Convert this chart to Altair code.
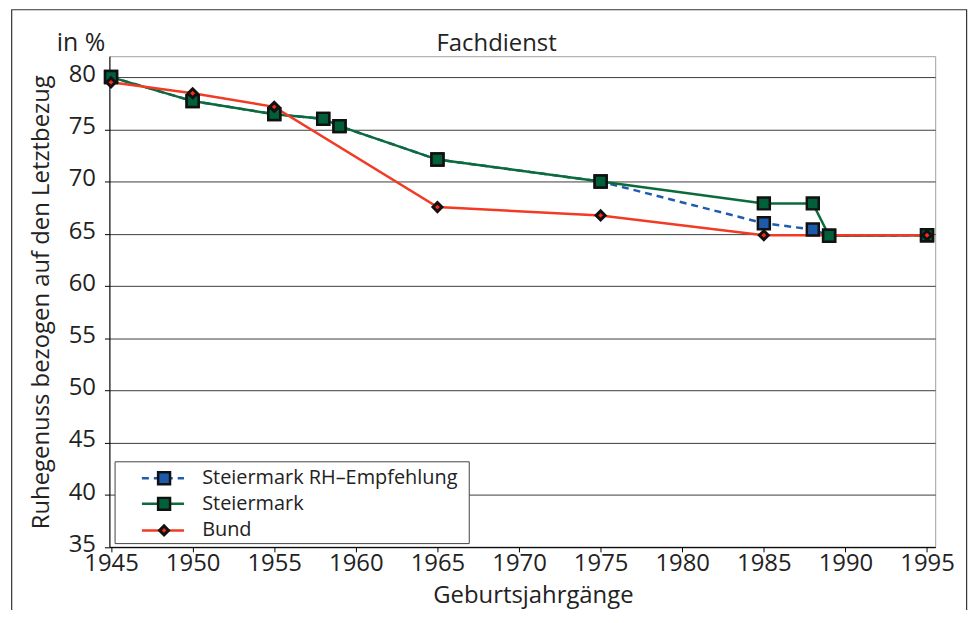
import altair as alt
import pandas as pd

# ---- data ----
years_stmk = [1945, 1950, 1955, 1958, 1959, 1965, 1975, 1985, 1988, 1989, 1995]
stmk = [80.0, 77.7, 76.45, 76.0, 75.3, 72.1, 70.0, 67.9, 67.9, 64.8, 64.85]
years_rh = [1945, 1950, 1955, 1958, 1959, 1965, 1975, 1985, 1988, 1989, 1995]
rh = [80.0, 77.7, 76.45, 76.0, 75.3, 72.1, 70.0, 66.0, 65.4, 64.8, 64.85]
years_bund = [1945, 1950, 1955, 1965, 1975, 1985, 1995]
bund = [79.5, 78.45, 77.15, 67.55, 66.75, 64.85, 64.85]

x_ticks = [1945, 1950, 1955, 1960, 1965, 1970, 1975, 1980, 1985, 1990, 1995]
y_ticks = [35, 40, 45, 50, 55, 60, 65, 70, 75, 80]

series_keys = ["rh", "stmk", "bund"]
series_names = ["Steiermark RH\u2013Empfehlung", "Steiermark", "Bund"]
line_colors = ["#1f5cb0", "#0b6b3a", "#f23a24"]
fill_colors = ["#1e5aaa", "#00603a", "#ff2a1a"]
shapes = ["square", "square", "diamond"]

rows = []
for key, ys, vs in [("rh", years_rh, rh), ("stmk", years_stmk, stmk), ("bund", years_bund, bund)]:
    for y, v in zip(ys, vs):
        rows.append({"series": key, "year": y, "value": v})
df = pd.DataFrame(rows)
one = pd.DataFrame({"k": [0]})

FONT = "Open Sans"
TXT = "#222222"

X = alt.X(
    "year:Q",
    scale=alt.Scale(domain=[1944.9, 1995.5], nice=False, zero=False),
    axis=alt.Axis(
        values=x_ticks, format="d", grid=False, tickSize=5, tickColor="black",
        domainColor="black", labelFontSize=24, labelPadding=0, labelColor=TXT,
        labelFlush=False, labelOverlap=False,
        title="Geburtsjahrgänge", titleFontSize=24, titleFontWeight="normal",
        titleColor=TXT, titleX=426, titleY=48.5, titleBaseline="middle", titleAlign="center",
    ),
)
Y = alt.Y(
    "value:Q",
    scale=alt.Scale(domain=[35, 82], nice=False, zero=False),
    axis=alt.Axis(
        values=y_ticks, grid=True, gridColor="#3c3c3c", gridWidth=1, tickSize=5,
        tickColor="black", domainColor="black", labelFontSize=24, labelPadding=9,
        labelOffset=-2.5, labelColor=TXT,
        title="Ruhegenuss bezogen auf den Letztbezug", titleFontSize=24,
        titleFontWeight="normal", titleColor=TXT, titleAngle=270, titleX=-68,
        titleY=247, titleBaseline="middle", titleAlign="center",
    ),
)

base = alt.Chart(df).encode(x=X, y=Y)

layers = []
for key, col in zip(series_keys, line_colors):
    kw = dict(color=col, strokeWidth=2.5)
    if key == "rh":
        kw["strokeDash"] = [7, 5]
    layers.append(base.transform_filter(alt.datum.series == key).mark_line(**kw))
for key, fc, shp in zip(series_keys, fill_colors, shapes):
    if shp == "square":
        mk = base.transform_filter(alt.datum.series == key).mark_point(
            shape="square", filled=True, fill=fc, stroke="#111111", strokeWidth=2.5,
            size=144, opacity=1)
    else:
        mk = base.transform_filter(alt.datum.series == key).mark_point(
            shape="diamond", filled=True, fill=fc, stroke="#111111", strokeWidth=3,
            size=81, opacity=1)
    layers.append(mk)

# ---- legend box ----
deco = alt.Chart(one)
layers.append(deco.mark_rect(fill="white", stroke="#444444", strokeWidth=1).encode(
    x=alt.value(5.7), x2=alt.value(362), y=alt.value(408), y2=alt.value(490.3)))
row_y = [424.6, 450.3, 477.0]
for i in range(3):
    kw = dict(color=line_colors[i], strokeWidth=2.5)
    if i == 0:
        kw["strokeDash"] = [7, 5]
    layers.append(deco.mark_rule(**kw).encode(
        x=alt.value(32.7), x2=alt.value(75), y=alt.value(row_y[i])))
    if shapes[i] == "square":
        pm = deco.mark_point(shape="square", filled=True, fill=fill_colors[i], stroke="#111111",
                             strokeWidth=2.5, size=144, opacity=1)
    else:
        pm = deco.mark_point(shape="diamond", filled=True, fill=fill_colors[i], stroke="#111111",
                             strokeWidth=3, size=81, opacity=1)
    layers.append(pm.encode(x=alt.value(55), y=alt.value(row_y[i])))
    layers.append(deco.mark_text(text=series_names[i], fontSize=20, align="left",
                                 baseline="middle", color=TXT, font=FONT).encode(
        x=alt.value(93.3), y=alt.value(row_y[i])))

# ---- title texts ----
layers.append(deco.mark_text(text="Fachdienst", fontSize=24, align="center",
                             baseline="alphabetic", color=TXT, font=FONT).encode(
    x=alt.value(389.5), y=alt.value(-5.7)))
layers.append(deco.mark_text(text="in %", fontSize=25, align="center",
                             baseline="alphabetic", color=TXT, font=FONT).encode(
    x=alt.value(-28.5), y=alt.value(-5.0)))

# ---- outer frame ----
layers.append(deco.mark_rect(fillOpacity=0, stroke="#333333", strokeWidth=1.2).encode(
    x=alt.value(-98.3), x2=alt.value(862.3), y=alt.value(-46.7), y2=alt.value(640)))

chart = alt.layer(*layers).properties(
    width=830.7, height=493.6,
    autosize=alt.AutoSizeParams(type="none"),
    padding={"left": 102, "top": 46.7, "right": 34, "bottom": 62},
).configure(font=FONT).configure_view(stroke="#a0a0a0", strokeWidth=1)

chart.save("out.html", embed_options={"renderer": "svg", "actions": False})
